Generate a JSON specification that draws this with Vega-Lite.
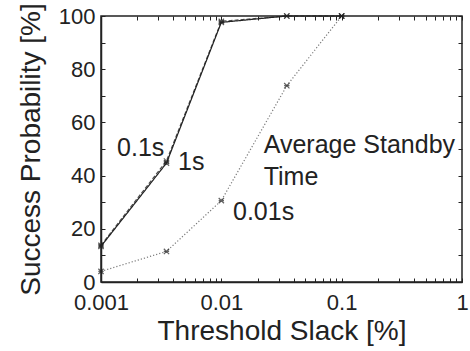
{
  "$schema": "https://vega.github.io/schema/vega-lite/v6.json",
  "width": 361,
  "height": 266,
  "autosize": {"type": "none"},
  "padding": {"left": 101, "top": 16, "right": 8, "bottom": 69},
  "background": "white",
  "config": {
    "view": {"stroke": "#222", "strokeWidth": 1.5},
    "font": "Liberation Sans",
    "axis": {
      "grid": false,
      "domainColor": "#222",
      "domainWidth": 1.5,
      "tickColor": "#222",
      "tickSize": -4,
      "labelFont": "Liberation Sans",
      "labelFontSize": 22,
      "labelColor": "#222",
      "titleFont": "Liberation Sans",
      "titleFontSize": 28,
      "titleFontWeight": "normal",
      "titleColor": "#222"
    }
  },
  "datasets": {
    "lines": [
      {"series": "0.01s", "slack": 0.001, "prob": 4},
      {"series": "0.01s", "slack": 0.0035, "prob": 11.5},
      {"series": "0.01s", "slack": 0.01, "prob": 30.6},
      {"series": "0.01s", "slack": 0.035, "prob": 73.8},
      {"series": "0.01s", "slack": 0.1, "prob": 100},
      {"series": "1s", "slack": 0.001, "prob": 13.8},
      {"series": "1s", "slack": 0.0035, "prob": 45.5},
      {"series": "1s", "slack": 0.01, "prob": 98},
      {"series": "1s", "slack": 0.035, "prob": 100},
      {"series": "1s", "slack": 0.1, "prob": 100},
      {"series": "0.1s", "slack": 0.001, "prob": 13.4},
      {"series": "0.1s", "slack": 0.0035, "prob": 44.7},
      {"series": "0.1s", "slack": 0.01, "prob": 97.6},
      {"series": "0.1s", "slack": 0.035, "prob": 100},
      {"series": "0.1s", "slack": 0.1, "prob": 100}
    ],
    "labels": [
      {"text": "0.1s", "slack": 0.00136, "prob": 50.5},
      {"text": "1s", "slack": 0.00437, "prob": 45.2},
      {"text": "0.01s", "slack": 0.0125, "prob": 26.4},
      {"text": "Average Standby", "slack": 0.0225, "prob": 51.6},
      {"text": "Time", "slack": 0.0225, "prob": 39.6}
    ]
  },
  "resolve": {"axis": {"x": "independent", "y": "independent"}},
  "layer": [
    {
      "data": {"name": "lines"},
      "mark": {"type": "line", "color": "#222", "strokeWidth": 1.2},
      "encoding": {
        "x": {
          "field": "slack", "type": "quantitative",
          "scale": {"type": "log", "domain": [0.001, 1], "nice": false},
          "axis": {
            "orient": "bottom",
            "title": "Threshold Slack [%]",
            "values": [0.001,0.002,0.003,0.004,0.005,0.006,0.007,0.008,0.009,0.01,0.02,0.03,0.04,0.05,0.06,0.07,0.08,0.09,0.1,0.2,0.3,0.4,0.5,0.6,0.7,0.8,0.9,1],
            "format": "~g",
            "labelExpr": "indexof(['0.001','0.01','0.1','1'], datum.label) >= 0 ? datum.label : ''",
            "labelPadding": 14,
            "labelFlush": false,
            "titlePadding": 4
          }
        },
        "y": {
          "field": "prob", "type": "quantitative",
          "scale": {"domain": [0, 100], "nice": false},
          "axis": {
            "orient": "left",
            "title": "Success Probability [%]",
            "values": [0,10,20,30,40,50,60,70,80,90,100],
            "labelExpr": "datum.value % 20 == 0 ? datum.label : ''",
            "labelPadding": 10,
            "titlePadding": 13
          }
        },
        "strokeDash": {
          "field": "series", "type": "nominal",
          "scale": {"domain": ["0.1s", "1s", "0.01s"], "range": [[1, 0], [4, 2], [1.2, 2]]},
          "legend": null
        },
        "opacity": {
          "field": "series", "type": "nominal",
          "scale": {"domain": ["0.1s", "1s", "0.01s"], "range": [1, 0.6, 1]},
          "legend": null
        }
      }
    },
    {
      "data": {"name": "lines"},
      "mark": {"type": "point", "shape": "M-1,-1L1,1M1,-1L-1,1M-1,0L1,0", "filled": false, "color": "#222", "size": 28, "strokeWidth": 1.2},
      "encoding": {
        "x": {
          "field": "slack", "type": "quantitative",
          "scale": {"type": "log", "domain": [0.001, 1], "nice": false},
          "axis": {
            "orient": "top", "title": null, "labels": false,
            "domain": false,
            "values": [0.001,0.002,0.003,0.004,0.005,0.006,0.007,0.008,0.009,0.01,0.02,0.03,0.04,0.05,0.06,0.07,0.08,0.09,0.1,0.2,0.3,0.4,0.5,0.6,0.7,0.8,0.9,1]
          }
        },
        "y": {
          "field": "prob", "type": "quantitative",
          "scale": {"domain": [0, 100], "nice": false},
          "axis": {
            "orient": "right", "title": null, "labels": false,
            "domain": false,
            "values": [0,10,20,30,40,50,60,70,80,90,100]
          }
        }
      }
    },
    {
      "data": {"name": "labels"},
      "mark": {"type": "text", "align": "left", "baseline": "middle", "fontSize": 25, "font": "Liberation Sans", "color": "#222"},
      "encoding": {
        "x": {"field": "slack", "type": "quantitative", "scale": {"type": "log", "domain": [0.001, 1], "nice": false}, "axis": null},
        "y": {"field": "prob", "type": "quantitative", "scale": {"domain": [0, 100], "nice": false}, "axis": null},
        "text": {"field": "text"}
      }
    }
  ]
}
